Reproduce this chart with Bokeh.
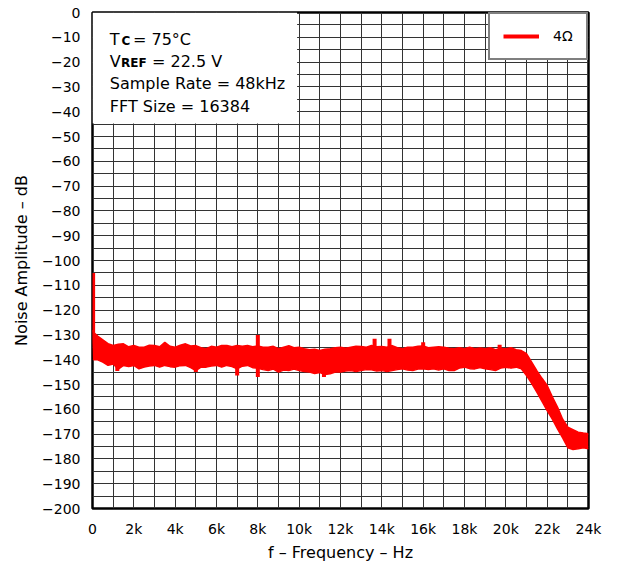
from bokeh.plotting import figure
from bokeh.models import (ColumnDataSource, FixedTicker, Range1d, Label,
                          BoxAnnotation, Legend, LegendItem)
from bokeh.embed import file_html
from bokeh.resources import INLINE

# ---------------- data ----------------
freq_hz = [0, 50, 250, 500, 750, 1000, 1250, 1500, 1750, 2000, 2250, 2500,
           2750, 3000, 3250, 3500, 3750, 4000, 4250, 4500, 4750, 5000, 5250,
           5500, 5750, 6000, 6250, 6500, 6750, 7000, 7250, 7500, 7750, 8000,
           8250, 8500, 8750, 9000, 9250, 9500, 9750, 10000, 10250, 10500,
           10750, 11000, 11250, 11500, 11750, 12000, 12250, 12500, 12750,
           13000, 13250, 13500, 13750, 14000, 14250, 14500, 14750, 15000,
           15250, 15500, 15750, 16000, 16250, 16500, 16750, 17000, 17250,
           17500, 17750, 18000, 18250, 18500, 18750, 19000, 19250, 19500,
           19750, 20000, 20250, 20500, 20750, 21000, 21250, 21500, 21750,
           22000, 22250, 22500, 22750, 23000, 23250, 23500, 23750, 24000]

upper_db = [-128, -129, -130.5, -132, -133.5, -134.3, -133.8, -133.6, -134.8,
            -134.3, -135, -135, -134.2, -134.3, -134.8, -133, -134.6, -135,
            -134.2, -133.6, -134.5, -134.3, -135.2, -135.6, -134.6, -135,
            -134.3, -134.3, -134.8, -134.3, -134.6, -134.3, -134.8, -134.5,
            -135, -135, -134.6, -135.6, -135, -134.4, -135.2, -135, -135.6,
            -136, -135.8, -136.3, -135.8, -135.6, -135.2, -135, -135.4, -135,
            -134.6, -134.7, -135, -134.3, -134.8, -134.7, -135, -134.3,
            -135.2, -135.6, -135, -135, -134.6, -134.5, -135.2, -135, -134.8,
            -135, -135.4, -135.6, -135.2, -135.6, -135, -135.6, -135.3,
            -135.6, -135.2, -136, -135.5, -135.6, -135.2, -136, -136.3,
            -137.6, -141, -144.4, -147.5, -150.4, -155, -159.1, -164, -167.2,
            -168.2, -169.2, -169.6, -169.9]

lower_db = [-131, -140, -140, -141, -142.3, -141.7, -143.8, -142.3, -142.8,
            -142.3, -143.7, -143, -142.5, -142.3, -143, -142.3, -142.8, -143,
            -142.4, -142.3, -143.2, -144.4, -143, -143, -142.5, -142.3, -143,
            -142.3, -142.8, -143.7, -142.6, -142.3, -143.2, -143.5, -144,
            -144.4, -143.8, -145, -144.2, -144.4, -143.8, -144.4, -144.8,
            -145, -145.6, -145.2, -146, -145.7, -145, -145, -144.6, -144.4,
            -144.8, -144.4, -144, -144.1, -144.6, -144.4, -144.8, -144.4,
            -144, -143.7, -144.2, -144.4, -143.8, -143.7, -144, -143.7,
            -144.2, -143.7, -144.4, -144.4, -143.4, -143, -143.6, -143.7,
            -143.2, -143.7, -144, -144.4, -143.4, -143, -143.4, -143, -143.7,
            -146.4, -149.5, -153.1, -156.8, -160.5, -164, -167.9, -171.5,
            -175.5, -176.2, -175.9, -175.5, -175.9]

spike_freq_hz = [30, 1200, 5000, 7000, 8000, 11200, 13650, 14370, 16000, 19700]
spike_top_db = [-105, -138, -138, -137, -130, -138, -131.6, -131.6, -133, -134]
spike_bottom_db = [-131, -144.6, -145, -146.4, -147, -147, -140, -140, -140, -140]

series_label = "4Ω"

x_tick_values = [0, 2000, 4000, 6000, 8000, 10000, 12000, 14000, 16000,
                 18000, 20000, 22000, 24000]
x_tick_labels = ["0", "2k", "4k", "6k", "8k", "10k", "12k", "14k", "16k",
                 "18k", "20k", "22k", "24k"]
y_tick_values = [0, -10, -20, -30, -40, -50, -60, -70, -80, -90, -100, -110,
                 -120, -130, -140, -150, -160, -170, -180, -190, -200]
y_tick_labels = ["0", "−10", "−20", "−30", "−40", "−50", "−60", "−70", "−80",
                 "−90", "−100", "−110", "−120", "−130", "−140", "−150",
                 "−160", "−170", "−180", "−190", "−200"]

FONT = "DejaVu Sans"
RED = "#ff0000"

# ---------------- figure ----------------
p = figure(frame_width=496, frame_height=496, output_backend="svg",
           toolbar_location=None,
           x_range=Range1d(0, 24000), y_range=Range1d(-200, 0),
           min_border_left=92, min_border_right=22, min_border_top=12,
           min_border_bottom=50)
p.background_fill_color = "white"
p.border_fill_color = "white"
p.outline_line_color = "black"
p.outline_line_width = 2.5
p.outline_line_alpha = 1

# grid
p.xgrid.ticker = FixedTicker(ticks=[i * 1000 for i in range(25)])
p.ygrid.ticker = FixedTicker(ticks=[-5 * i for i in range(41)])
for g in (p.xgrid, p.ygrid):
    g.grid_line_color = "#333333"
    g.grid_line_width = 1
    g.grid_line_alpha = 1

# axes
p.xaxis.ticker = FixedTicker(ticks=x_tick_values)
p.xaxis.major_label_overrides = {v: l for v, l in zip(x_tick_values, x_tick_labels)}
p.yaxis.ticker = FixedTicker(ticks=y_tick_values)
p.yaxis.major_label_overrides = {v: l for v, l in zip(y_tick_values, y_tick_labels)}
for ax in (p.xaxis, p.yaxis):
    ax.axis_line_color = None
    ax.major_tick_line_color = None
    ax.minor_tick_line_color = None
    ax.major_tick_out = 0
    ax.major_tick_in = 0
    ax.major_label_text_font = FONT
    ax.major_label_text_font_size = "14px"
    ax.major_label_text_color = "black"
    ax.axis_label_text_font = FONT
    ax.axis_label_text_font_size = "16px"
    ax.axis_label_text_font_style = "normal"
    ax.axis_label_text_color = "black"
p.xaxis.major_label_standoff = 12
p.yaxis.major_label_standoff = 12
p.xaxis.axis_label = "f – Frequency – Hz"
p.yaxis.axis_label = "Noise Amplitude – dB"
p.xaxis.axis_label_standoff = 3
p.yaxis.axis_label_standoff = 8

# ---------------- data marks ----------------
src = ColumnDataSource(dict(f=freq_hz, up=upper_db, lo=lower_db))
p.varea(x="f", y1="lo", y2="up", source=src, fill_color=RED, fill_alpha=1)
p.line(x="f", y="up", source=src, line_color=RED, line_width=1.5)
p.line(x="f", y="lo", source=src, line_color=RED, line_width=1.5)

ssrc = ColumnDataSource(dict(f=spike_freq_hz, t=spike_top_db, b=spike_bottom_db))
spikes = p.segment(x0="f", y0="t", x1="f", y1="b", source=ssrc,
                   line_color=RED, line_width=4)

# ---------------- annotation box ----------------
p.add_layout(BoxAnnotation(left=0, right=9900, top=0, bottom=-44.8,
                           fill_color="white", fill_alpha=1,
                           line_color=None))

def lab(x, y, text, size="16px", style="normal"):
    p.add_layout(Label(x=x, y=y, text=text, text_font=FONT,
                       text_font_size=size, text_font_style=style,
                       text_color="black", text_baseline="alphabetic",
                       text_align="left"))

lab(837, -10.9, "T")
lab(1400, -11.6, "C", size="12px", style="bold")
lab(1960, -10.9, "= 75°C")
lab(837, -19.8, "V")
lab(1380, -20.4, "REF", size="12px", style="bold")
lab(2880, -19.8, "= 22.5 V")
lab(837, -28.8, "Sample Rate = 48kHz")
lab(837, -37.9, "FFT Size = 16384")

# ---------------- legend ----------------
leg = Legend(items=[LegendItem(label=series_label, renderers=[spikes])],
             location="top_right", margin=0, padding=13, spacing=0,
             glyph_width=36, glyph_height=18, label_height=18,
             label_standoff=14, border_line_color="black",
             border_line_width=2, background_fill_color="white",
             background_fill_alpha=1, label_text_font=FONT,
             label_text_font_size="14px", label_text_color="black")
p.add_layout(leg)

open("out.html", "w").write(file_html(p, INLINE))
